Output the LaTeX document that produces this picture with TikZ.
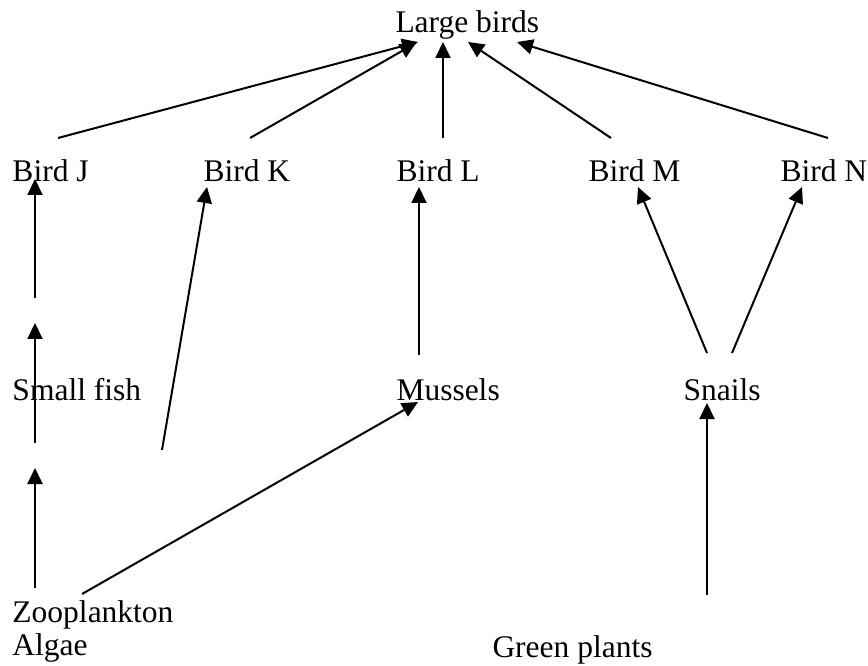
\documentclass[tikz,border=0pt]{standalone}
\usepackage{fontspec}
\setmainfont{Liberation Serif}
\usetikzlibrary{arrows.meta}

\tikzset{
  lbl/.style={anchor=base west, inner sep=0pt, font=\fontsize{12.6}{15}\selectfont},
  arr/.style={line width=0.8pt, -{Triangle[length=6.4pt,width=6pt]}}
}

\begin{document}
\begin{tikzpicture}[x=0.4pt, y=-0.4pt]
    \useasboundingbox (0,0) rectangle (868,666);
    % Names
    \node[lbl] (large) at (395,33) {Large birds};
    \node[lbl] (birdJ) at (12,182) {Bird J};
    \node[lbl] (birdK) at (203,182) {Bird K};
    \node[lbl] (birdL) at (396,182) {Bird L};
    \node[lbl] (birdM) at (588,182) {Bird M};
    \node[lbl] (birdN) at (780,182) {Bird N};
    \node[lbl] (fish) at (12,401) {Small fish};
    \node[lbl] (mussels) at (396,401) {Mussels};
    \node[lbl] (snails) at (683,400) {Snails};
    \node[lbl] (zoo) at (12,622) {Zooplankton};
    \node[lbl] (algae) at (12,655) {Algae};
    \node[lbl] (plants) at (492,657) {Green plants};
    % Line ends
    \coordinate (J1) at (58,138);
    \coordinate (K1) at (250,138);
    \coordinate (L1) at (443,138);
    \coordinate (M1) at (611,138);
    \coordinate (N1) at (828,138);
    \coordinate (tJ) at (418,42);
    \coordinate (tK) at (416,43);
    \coordinate (tL) at (443,42);
    \coordinate (tM) at (468,42);
    \coordinate (tN) at (517,42);
    \coordinate (J2) at (35,298);
    \coordinate (J3) at (35,179);
    \coordinate (F1) at (35,443);
    \coordinate (F2) at (35,323);
    \coordinate (Z1) at (35,588);
    \coordinate (Z2) at (35,468);
    \coordinate (K2) at (162,450);
    \coordinate (K3) at (207,187);
    \coordinate (L2) at (419,355);
    \coordinate (L3) at (419,187);
    \coordinate (Z3) at (82,594);
    \coordinate (mu) at (418,402);
    \coordinate (S1) at (707,353);
    \coordinate (S2) at (732,353);
    \coordinate (M2) at (638,187);
    \coordinate (N2) at (802,187);
    \coordinate (G1) at (707,595);
    \coordinate (S3) at (707,403);
    % Arrows
    \draw[arr] (J1) -- (tJ);
    \draw[arr] (K1) -- (tK);
    \draw[arr] (L1) -- (tL);
    \draw[arr] (M1) -- (tM);
    \draw[arr] (N1) -- (tN);
    \draw[arr] (J2) -- (J3);
    \draw[arr] (F1) -- (F2);
    \draw[arr] (Z1) -- (Z2);
    \draw[arr] (K2) -- (K3);
    \draw[arr] (L2) -- (L3);
    \draw[arr] (Z3) -- (mu);
    \draw[arr] (S1) -- (M2);
    \draw[arr] (S2) -- (N2);
    \draw[arr] (G1) -- (S3);
\end{tikzpicture}
\end{document}
